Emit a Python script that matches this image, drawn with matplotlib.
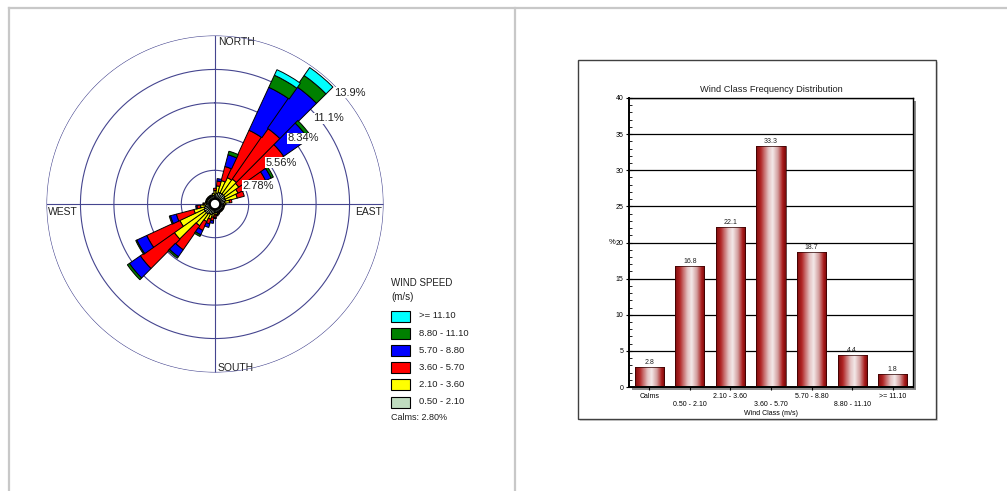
import numpy as np
import matplotlib
matplotlib.use("Agg")
import matplotlib.pyplot as plt
from matplotlib.patches import Rectangle
from matplotlib.colors import LinearSegmentedColormap
from matplotlib.ticker import MultipleLocator

plt.rcParams['font.family'] = ['Liberation Sans', 'DejaVu Sans']

# ---- wind rose data: 36 sectors (10 deg), frequency in % per speed class ----
directions = np.arange(0, 360, 10)
speed_labels = [">= 11.10", "8.80 - 11.10", "5.70 - 8.80", "3.60 - 5.70", "2.10 - 3.60", "0.50 - 2.10"]
speed_colors = ["#00ffff", "#008000", "#0000ff", "#ff0000", "#ffff00", "#c0dcc0"]

#              0    10   20   30   40   50   60   70   80   90  100  110  120  130  140  150  160  170
freq_050_210 = [0.4, 0.5, 0.6, 0.6, 0.6, 0.6, 0.5, 0.5, 0.4, 0.3, 0.3, 0.3, 0.3, 0.3, 0.3, 0.3, 0.3, 0.3,
                0.3, 0.4, 0.5, 0.5, 0.6, 0.6, 0.6, 0.5, 0.4, 0.3, 0.3, 0.3, 0.3, 0.3, 0.3, 0.3, 0.3, 0.3]
freq_210_360 = [0.3, 0.6, 1.0, 1.4, 1.5, 1.4, 1.2, 1.0, 0.4, 0.2, 0.1, 0.1, 0.1, 0.1, 0.1, 0.1, 0.1, 0.2,
                0.2, 0.3, 0.4, 0.7, 1.2, 3.1, 2.2, 0.9, 0.4, 0.2, 0.1, 0.1, 0.1, 0.1, 0.1, 0.1, 0.1, 0.2]
freq_360_570 = [0.2, 0.4, 1.2, 4.3, 5.1, 4.5, 2.5, 0.6, 0.2, 0.0, 0.0, 0.0, 0.0, 0.0, 0.0, 0.0, 0.1, 0.1,
                0.2, 0.3, 0.4, 0.8, 2.4, 3.4, 3.0, 1.5, 0.3, 0.1, 0.0, 0.0, 0.0, 0.0, 0.0, 0.0, 0.0, 0.0]
freq_570_880 = [0.0, 0.2, 1.0, 3.9, 4.2, 2.5, 0.5, 0.0, 0.0, 0.0, 0.0, 0.0, 0.0, 0.0, 0.0, 0.0, 0.0, 0.0,
                0.1, 0.2, 0.3, 0.4, 0.7, 1.1, 0.9, 0.5, 0.1, 0.0, 0.0, 0.0, 0.0, 0.0, 0.0, 0.0, 0.0, 0.0]
freq_880_1110 = [0.0, 0.0, 0.3, 1.1, 1.1, 0.3, 0.2, 0.0, 0.0, 0.0, 0.0, 0.0, 0.0, 0.0, 0.0, 0.0, 0.0, 0.0,
                 0.0, 0.0, 0.0, 0.15, 0.15, 0.2, 0.1, 0.1, 0.0, 0.0, 0.0, 0.0, 0.0, 0.0, 0.0, 0.0, 0.0, 0.0]
freq_1110_up = [0.0, 0.0, 0.0, 0.5, 0.8, 0.0, 0.0, 0.0, 0.0, 0.0, 0.0, 0.0, 0.0, 0.0, 0.0, 0.0, 0.0, 0.0,
                0.0, 0.0, 0.0, 0.0, 0.0, 0.0, 0.0, 0.0, 0.0, 0.0, 0.0, 0.0, 0.0, 0.0, 0.0, 0.0, 0.0, 0.0]
calm_pct = 2.80
calm_radius = 0.4
ring_values = [2.78, 5.56, 8.34, 11.1, 13.9]

# ---- frequency distribution bar chart ----
wind_classes = ["Calms", "0.50 - 2.10", "2.10 - 3.60", "3.60 - 5.70", "5.70 - 8.80", "8.80 - 11.10", ">= 11.10"]
class_freq = [2.8, 16.8, 22.1, 33.3, 18.7, 4.4, 1.8]

W, H = 1007, 491
fig = plt.figure(figsize=(W / 100, H / 100), dpi=100)
fig.patch.set_facecolor("white")

# page layer in pixel coordinates (panel borders, legend, chart frame)
pg = fig.add_axes([0, 0, 1, 1], zorder=0)
pg.set_xlim(0, W)
pg.set_ylim(H, 0)
pg.axis("off")
pg.plot([9, W], [8, 8], color="#c8c8c8", lw=1.6)
pg.plot([9, 9], [8, H], color="#c8c8c8", lw=1.6)
pg.plot([515, 515], [8, H], color="#c8c8c8", lw=1.6)

# ---------------- wind rose ----------------
cx, cy, R = 215, 204, 168.5
ax = fig.add_axes([(cx - R) / W, (H - cy - R) / H, 2 * R / W, 2 * R / H], projection="polar", zorder=1)
ax.set_theta_zero_location("N")
ax.set_theta_direction(-1)
ax.set_ylim(0, ring_values[-1])
ax.grid(False)
ax.set_xticks([])
ax.set_yticks([])
ax.spines["polar"].set_visible(False)
ax.patch.set_alpha(0)

circ = np.linspace(0, 2 * np.pi, 400)
for r in ring_values:
    ax.plot(circ, np.full_like(circ, r), color="#45458f", lw=0.8, zorder=1)
for a in [0, 90, 180, 270]:
    ax.plot([np.deg2rad(a)] * 2, [0, ring_values[-1]], color="#45458f", lw=0.8, zorder=1)

theta = np.deg2rad(directions)
bottom = np.full(len(directions), calm_radius)
stack = [freq_050_210, freq_210_360, freq_360_570, freq_570_880, freq_880_1110, freq_1110_up]
for vals, col in zip(stack, speed_colors[::-1]):
    vals = np.array(vals)
    m = vals > 0
    ax.bar(theta[m], vals[m], width=np.deg2rad(10.5), bottom=bottom[m],
           color=col, edgecolor="black", lw=0.7, zorder=3)
    bottom = bottom + vals

ax.fill(circ, np.full_like(circ, calm_radius), facecolor="white", edgecolor="black", lw=1.0, zorder=4)

for r, ang in zip(ring_values, [56, 51, 48, 49, 47]):
    ax.text(np.deg2rad(ang), r * 0.97, f"{r:g}%", ha="left", va="center", fontsize=8,
            color="#202020", zorder=5,
            bbox=dict(boxstyle="square,pad=0.05", fc="white", ec="none"))

pg.text(218, 42, "NORTH", fontsize=7.5, ha="left", va="center", color="#202020")
pg.text(218, 368, "SOUTH", fontsize=7.5, ha="left", va="center", color="#202020")
pg.text(48, 212, "WEST", fontsize=7.5, ha="left", va="center", color="#202020")
pg.text(382, 212, "EAST", fontsize=7.5, ha="right", va="center", color="#202020")

# legend
pg.text(391, 283, "WIND SPEED", fontsize=7, ha="left", va="center", color="#202020")
pg.text(391, 297, "(m/s)", fontsize=7, ha="left", va="center", color="#202020")
for i, (lab, col) in enumerate(zip(speed_labels, speed_colors)):
    y0 = 310.5 + i * 17.2
    pg.add_patch(Rectangle((391, y0), 19, 11, facecolor=col, edgecolor="black", lw=0.8))
    pg.text(419, y0 + 5.5, lab, fontsize=6.8, ha="left", va="center", color="#202020")
pg.text(391, 418, f"Calms: {calm_pct:.2f}%", fontsize=6.5, ha="left", va="center", color="#202020")

# ---------------- bar chart ----------------
pg.add_patch(Rectangle((580, 62), 358, 359, facecolor="#d8d8d8", edgecolor="none"))
pg.add_patch(Rectangle((578, 60), 358, 359, facecolor="white", edgecolor="#404040", lw=1.0))
x0p, x1p, y0p, y1p = 629, 913, 98, 387
pg.add_patch(Rectangle((x0p + 3, y0p + 3), x1p - x0p, y1p - y0p, facecolor="#8c8c8c", edgecolor="none"))

bx = fig.add_axes([x0p / W, (H - y1p) / H, (x1p - x0p) / W, (y1p - y0p) / H], zorder=2)
bx.set_facecolor("white")
xpos = np.arange(len(wind_classes))
bars = bx.bar(xpos, class_freq, width=0.72, color="none", edgecolor="#2a0000", lw=0.5, zorder=3)

shade = LinearSegmentedColormap.from_list(
    "cyl", [(0.0, "#800c0c"), (0.15, "#b02424"), (0.42, "#e4c4c4"), (0.56, "#f3e8e8"),
            (0.74, "#d29a9a"), (0.9, "#a81a1a"), (1.0, "#780a0a")])
grad = np.linspace(0, 1, 64).reshape(1, -1)
for b in bars:
    im = bx.imshow(grad, extent=[b.get_x(), b.get_x() + b.get_width(), 0, b.get_height()],
                   aspect="auto", cmap=shade, zorder=2.5, interpolation="bilinear")
    im.set_clip_path(b)

for xv, v in zip(xpos, class_freq):
    bx.text(xv, v + 0.15, f"{v}", ha="center", va="bottom", fontsize=5, color="#202020", zorder=4)

bx.set_xlim(-0.5, len(wind_classes) - 0.5)
bx.set_ylim(0, 40)
bx.set_aspect("auto")
bx.yaxis.set_major_locator(MultipleLocator(5))
bx.yaxis.set_minor_locator(MultipleLocator(1))
bx.set_xticks(xpos)
bx.set_xticklabels([lab if i % 2 == 0 else "\n" + lab for i, lab in enumerate(wind_classes)])
bx.tick_params(axis="both", which="major", direction="inout", length=5, width=0.8, labelsize=5,
               pad=1.5, colors="black")
bx.tick_params(axis="y", which="minor", direction="in", length=2.5, width=0.6)
bx.grid(axis="y", which="major", color="black", lw=0.9)
bx.set_axisbelow(True)
for s in bx.spines.values():
    s.set_color("black")
    s.set_linewidth(1.0)
bx.spines["left"].set_linewidth(1.4)
bx.spines["bottom"].set_linewidth(1.4)

bx.set_title("Wind Class Frequency Distribution", fontsize=6.7, pad=4, color="#202020")
bx.set_xlabel("Wind Class (m/s)", fontsize=5, labelpad=1.5)
bx.set_ylabel("%", fontsize=5.5, rotation=0, va="center")
bx.yaxis.set_label_coords(-0.06, 0.5)

fig.savefig("out.png", dpi=100)
